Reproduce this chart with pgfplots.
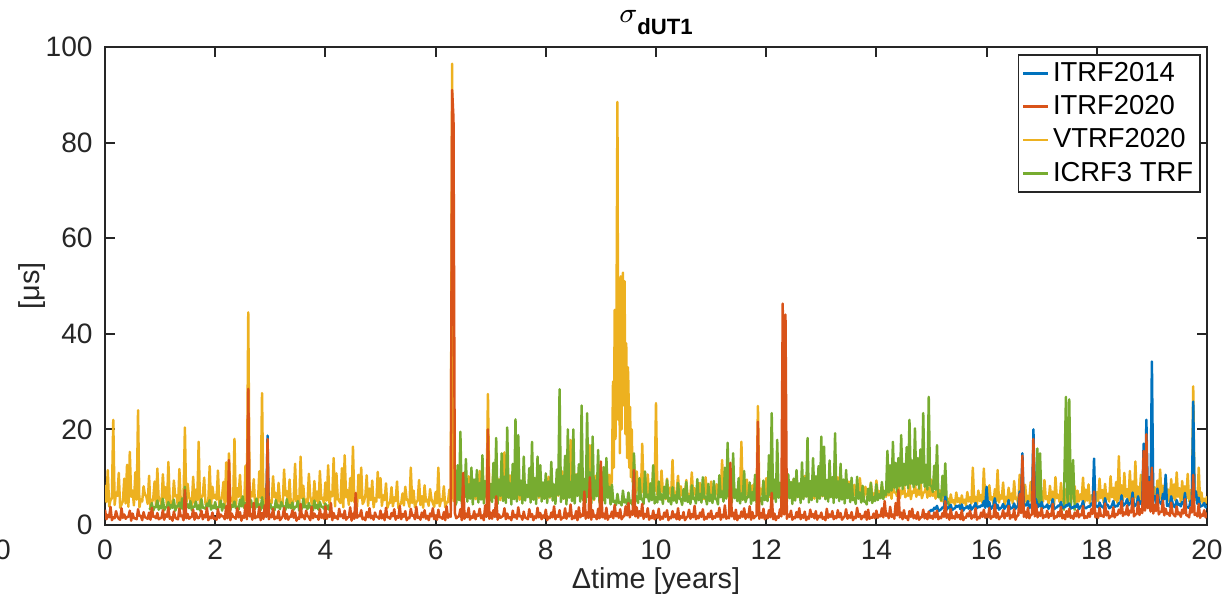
\documentclass[border=0pt]{standalone}
\usepackage{fontspec}
\setmainfont{Liberation Sans}
\usepackage{pgfplots}
\pgfplotsset{compat=1.18}
\definecolor{mblue}{rgb}{0,0.447,0.741}
\definecolor{morange}{rgb}{0.850,0.325,0.098}
\definecolor{myellow}{rgb}{0.929,0.694,0.125}
\definecolor{mgreen}{rgb}{0.466,0.674,0.188}
\definecolor{axgray}{rgb}{0.15,0.15,0.15}
\begin{document}
\begin{tikzpicture}
\useasboundingbox (0,0) rectangle (12.26cm,6.01cm);
\begin{axis}[
  at={(1.05cm,0.76cm)}, anchor=south west,
  scale only axis, width=11.02cm, height=4.78cm,
  xmin=0, xmax=20, ymin=0, ymax=100,
  xtick={0,2,...,20}, ytick={0,20,...,100},
  tick align=inside, tick pos=both, major tick length=1mm,
  axis line style={axgray, line width=0.6pt},
  every tick/.style={axgray, line width=0.6pt},
  /pgf/number format/assume math mode=true,
  tick label style={font=\fontsize{8}{9.6}\selectfont, text=axgray},
  xticklabel style={anchor=base, yshift=-3.5mm},
  every axis title shift=0pt,
  title={$\sigma$\raisebox{-1.2mm}{\fontsize{6.3}{7}\selectfont\bfseries dUT1}},
  title style={at={(axis description cs:0.5,1.052)}, anchor=base, font=\fontsize{8.5}{10}\selectfont},
  xlabel={Δtime [years]},
  xlabel style={at={(axis description cs:0.5,-0.132)}, anchor=base, font=\fontsize{8.2}{10}\selectfont, text=axgray},
  ylabel={[μs]},
  ylabel style={at={(axis description cs:-0.059,0.5)}, anchor=base, font=\fontsize{8.2}{10}\selectfont, text=axgray},
  legend style={at={(axis description cs:0.9946,0.9854)}, anchor=north east,
    draw=axgray, line width=0.5pt, fill=white,
    font=\fontsize{7.8}{9}\selectfont, inner xsep=1pt, inner ysep=0.5pt,
    nodes={inner sep=1pt, text height=6pt, text depth=1.5pt}, row sep=0pt},
  legend cell align=left,
  legend image code/.code={\draw[#1, line width=0.7pt] (0cm,0cm) -- (0.25cm,0cm);},
  every axis plot/.append style={line width=0.7pt, line join=round},
]
\addlegendimage{mblue}
\addlegendentry{ITRF2014}
\addlegendimage{morange}
\addlegendentry{ITRF2020}
\addlegendimage{myellow}
\addlegendentry{VTRF2020}
\addlegendimage{mgreen}
\addlegendentry{ICRF3 TRF}

% VTRF2020 (yellow)
\addplot[myellow, forget plot] coordinates {
(0,8.4)(0.025,4.8)(0.05,11.5)(0.075,3.9)(0.1,5.2)(0.125,5.6)(0.15,22.0)(0.175,4.2)(0.2,6.8)(0.225,6.1)(0.25,10.9)(0.275,3.6)(0.3,4.3)(0.325,5.0)(0.35,9.7)(0.375,4.5)(0.4,12.6)(0.425,3.8)(0.45,15.3)(0.475,5.9)(0.5,7.2)(0.525,4.1)(0.55,11.0)(0.575,5.3)(0.6,24.0)(0.625,3.7)(0.65,5.4)(0.675,4.9)(0.7,8.1)(0.725,6.3)(0.75,6.0)(0.775,4.4)(0.8,10.3)(0.825,3.5)(0.85,4.7)(0.875,5.5)(0.9,9.1)(0.925,4.0)(0.95,11.8)(0.975,5.1)
(1,5.5)(1.025,4.2)(1.05,10.6)(1.075,5.7)(1.1,7.9)(1.125,3.8)(1.15,13.2)(1.175,5.0)(1.2,4.6)(1.225,4.4)(1.25,9.3)(1.275,6.0)(1.3,6.2)(1.325,3.6)(1.35,11.7)(1.375,4.9)(1.4,4.1)(1.425,5.4)(1.45,20.4)(1.475,4.0)(1.5,8.6)(1.525,5.8)(1.55,5.0)(1.575,3.9)(1.6,10.1)(1.625,4.6)(1.65,7.4)(1.675,5.2)(1.7,17.4)(1.725,3.7)(1.75,5.8)(1.775,6.2)(1.8,9.9)(1.825,4.3)(1.85,4.4)(1.875,5.0)(1.9,12.3)(1.925,4.1)(1.95,8.0)(1.975,5.6)
(2,6.3)(2.025,5.3)(2.05,11.4)(2.075,4.0)(2.1,4.8)(2.125,6.1)(2.15,9.0)(2.175,3.7)(2.2,13.1)(2.225,4.8)(2.25,15.0)(2.275,5.5)(2.3,5.6)(2.325,4.2)(2.35,18.0)(2.375,3.9)(2.4,7.7)(2.425,5.9)(2.45,10.5)(2.475,4.5)(2.5,4.5)(2.525,3.6)(2.55,12.4)(2.575,5.1)(2.6,44.5)(2.625,4.7)(2.65,6.9)(2.675,6.0)(2.7,9.6)(2.725,3.8)(2.75,3.9)(2.775,4.4)(2.8,11.2)(2.825,5.7)(2.85,27.6)(2.875,4.1)(2.9,7.5)(2.925,5.2)(2.95,12.0)(2.975,3.9)
(3,5.1)(3.025,4.6)(3.05,10.2)(3.075,5.8)(3.1,6.7)(3.125,3.7)(3.15,8.8)(3.175,5.1)(3.2,4.2)(3.225,4.0)(3.25,11.6)(3.275,6.2)(3.3,7.1)(3.325,4.3)(3.35,9.5)(3.375,3.8)(3.4,3.8)(3.425,5.5)(3.45,12.8)(3.475,4.9)(3.5,6.0)(3.525,4.1)(3.55,14.3)(3.575,5.6)(3.6,8.2)(3.625,3.9)(3.65,5.3)(3.675,4.7)(3.7,10.7)(3.725,6.0)(3.75,4.6)(3.775,4.2)(3.8,9.2)(3.825,5.0)(3.85,7.0)(3.875,3.6)(3.9,11.3)(3.925,5.4)(3.95,5.7)(3.975,4.5)
(4,8.9)(4.025,5.1)(4.05,12.5)(4.075,4.3)(4.1,6.9)(4.125,6.0)(4.15,14.0)(4.175,3.9)(4.2,10.8)(4.225,5.5)(4.25,5.0)(4.275,4.6)(4.3,11.9)(4.325,3.7)(4.35,14.6)(4.375,5.8)(4.4,7.3)(4.425,4.2)(4.45,9.8)(4.475,5.0)(4.5,16.4)(4.525,4.8)(4.55,6.1)(4.575,3.8)(4.6,10.5)(4.625,5.6)(4.65,12.0)(4.675,4.4)(4.7,4.9)(4.725,6.1)(4.75,10.4)(4.775,4.0)(4.8,7.6)(4.825,5.2)(4.85,9.3)(4.875,3.7)(4.9,5.6)(4.925,4.9)(4.95,11.1)(4.975,5.7)
(5,9.8)(5.025,4.0)(5.05,6.2)(5.075,5.2)(5.1,8.7)(5.125,3.6)(5.15,4.5)(5.175,4.7)(5.2,7.9)(5.225,3.9)(5.25,5.8)(5.275,5.0)(5.3,9.1)(5.325,3.5)(5.35,4.3)(5.375,4.5)(5.4,6.6)(5.425,4.1)(5.45,8.0)(5.475,5.3)(5.5,5.1)(5.525,3.8)(5.55,12.0)(5.575,4.6)(5.6,7.2)(5.625,3.7)(5.65,4.8)(5.675,5.1)(5.7,9.4)(5.725,4.2)(5.75,6.0)(5.775,3.6)(5.8,8.3)(5.825,4.9)(5.85,5.3)(5.875,4.0)(5.9,7.5)(5.925,5.4)(5.95,4.6)(5.975,3.8)
(6,6.9)(6.025,4.5)(6.05,12.0)(6.075,3.9)(6.1,5.4)(6.125,5.1)(6.15,8.1)(6.175,3.7)(6.2,4.7)(6.225,4.8)(6.25,7.4)(6.275,4.2)(6.3,96.5)(6.325,5.0)(6.35,6.3)(6.375,5.8)(6.4,8.8)(6.425,6.5)(6.45,5.2)(6.475,5.3)(6.5,9.7)(6.525,6.9)(6.55,7.0)(6.575,5.6)(6.6,10.2)(6.625,6.2)(6.65,5.9)(6.675,7.0)(6.7,8.4)(6.725,5.4)(6.75,6.6)(6.775,6.6)(6.8,11.3)(6.825,5.9)(6.85,7.2)(6.875,6.8)(6.9,9.0)(6.925,5.5)(6.95,27.4)(6.975,6.3)
(7,8.2)(7.025,6.1)(7.05,11.5)(7.075,5.6)(7.1,6.4)(7.125,6.8)(7.15,9.6)(7.175,5.2)(7.2,7.3)(7.225,6.4)(7.25,15.2)(7.275,5.9)(7.3,8.8)(7.325,7.1)(7.35,10.4)(7.375,5.5)(7.4,6.9)(7.425,6.7)(7.45,12.3)(7.475,6.0)(7.5,7.6)(7.525,5.3)(7.55,9.1)(7.575,6.5)(7.6,11.0)(7.625,5.8)(7.65,8.0)(7.675,7.0)(7.7,6.5)(7.725,5.4)(7.75,10.7)(7.775,6.2)(7.8,7.8)(7.825,6.9)(7.85,9.3)(7.875,5.7)(7.9,6.2)(7.925,6.3)(7.95,8.6)(7.975,5.5)
(8,7.0)(8.025,6.4)(8.05,10.1)(8.075,5.7)(8.1,8.4)(8.125,6.9)(8.15,6.6)(8.175,5.3)(8.2,9.5)(8.225,6.1)(8.25,7.7)(8.275,6.6)(8.3,11.2)(8.325,5.5)(8.35,6.3)(8.375,7.2)(8.4,8.9)(8.425,5.9)(8.45,17.8)(8.475,6.3)(8.5,7.4)(8.525,5.4)(8.55,10.6)(8.575,6.8)(8.6,6.8)(8.625,6.0)(8.65,9.2)(8.675,5.6)(8.7,8.0)(8.725,7.0)(8.75,12.5)(8.775,5.8)(8.8,16.7)(8.825,6.5)(8.85,7.9)(8.875,5.2)(8.9,10.3)(8.925,6.7)(8.95,9.0)(8.975,6.1)
(9,11.4)(9.025,6.2)(9.05,8.6)(9.075,7.0)(9.1,12.9)(9.125,5.8)(9.15,10.5)(9.175,6.6)(9.2,9.8)(9.22,30)(9.235,12)(9.25,45)(9.265,18)(9.28,35)(9.3,88.5)(9.315,22)(9.33,42)(9.345,15)(9.36,52)(9.375,20)(9.39,40)(9.4,52.8)(9.415,25)(9.43,51)(9.445,19)(9.46,38)(9.475,14)(9.49,33)(9.5,29)(9.515,12)(9.53,24.7)(9.545,10)(9.56,20)(9.575,9)(9.6,14)(9.625,6.0)(9.65,11.2)(9.675,7.2)(9.7,9.3)(9.725,5.5)(9.75,17.0)(9.775,6.8)(9.8,8.5)(9.825,5.9)(9.85,10.6)(9.875,6.4)(9.9,7.8)(9.925,5.6)(9.95,12.2)(9.975,7.0)
(10,25.5)(10.025,6.3)(10.05,8.2)(10.075,5.7)(10.1,11.4)(10.125,6.9)(10.15,6.9)(10.175,5.4)(10.2,9.7)(10.225,6.5)(10.25,7.8)(10.275,6.0)(10.3,13.6)(10.325,5.8)(10.35,6.2)(10.375,7.1)(10.4,10.3)(10.425,5.5)(10.45,8.1)(10.475,6.2)(10.5,7.0)(10.525,6.7)(10.55,9.4)(10.575,5.3)(10.6,6.5)(10.625,6.4)(10.65,11.0)(10.675,5.9)(10.7,7.7)(10.725,6.8)(10.75,5.9)(10.775,5.6)(10.8,8.8)(10.825,6.1)(10.85,7.1)(10.875,5.4)(10.9,10.0)(10.925,6.6)(10.95,6.4)(10.975,5.8)
(11,9.1)(11.025,5.9)(11.05,6.8)(11.075,6.5)(11.1,8.5)(11.125,5.4)(11.15,7.4)(11.175,6.8)(11.2,13.6)(11.225,5.7)(11.25,6.3)(11.275,6.2)(11.3,9.9)(11.325,5.5)(11.35,7.0)(11.375,7.0)(11.4,10.8)(11.425,6.0)(11.45,6.5)(11.475,5.6)(11.5,8.7)(11.525,6.6)(11.55,17.4)(11.575,5.3)(11.6,7.2)(11.625,6.3)(11.65,9.5)(11.675,5.8)(11.7,6.1)(11.725,6.9)(11.75,8.3)(11.775,5.5)(11.8,10.4)(11.825,6.1)(11.85,24.9)(11.875,5.7)(11.9,7.6)(11.925,6.4)(11.95,9.0)(11.975,5.9)
(12,9.8)(12.025,6.2)(12.05,7.5)(12.075,5.8)(12.1,8.9)(12.125,6.6)(12.15,6.7)(12.175,5.5)(12.2,10.1)(12.225,6.9)(12.25,7.3)(12.275,6.0)(12.3,9.0)(12.325,5.7)(12.35,6.4)(12.375,6.4)(12.4,8.2)(12.425,5.9)(12.45,7.8)(12.475,6.7)(12.5,9.6)(12.525,5.4)(12.55,6.9)(12.575,6.3)(12.6,8.5)(12.625,6.0)(12.65,7.1)(12.675,5.6)(12.7,10.3)(12.725,6.8)(12.75,6.6)(12.775,5.8)(12.8,8.0)(12.825,6.2)(12.85,7.4)(12.875,5.5)(12.9,9.2)(12.925,6.5)(12.95,6.2)(12.975,5.9)
(13,8.7)(13.025,6.0)(13.05,7.0)(13.075,6.5)(13.1,9.4)(13.125,5.6)(13.15,6.5)(13.175,6.8)(13.2,8.1)(13.225,5.8)(13.25,7.7)(13.275,6.3)(13.3,10.0)(13.325,5.5)(13.35,6.8)(13.375,6.6)(13.4,8.6)(13.425,6.1)(13.45,7.2)(13.475,5.7)(13.5,9.1)(13.525,6.9)(13.55,6.3)(13.575,5.4)(13.6,8.4)(13.625,6.2)(13.65,7.6)(13.675,5.9)(13.7,9.8)(13.725,6.7)(13.75,6.9)(13.775,5.6)(13.8,8.0)(13.825,6.4)(13.85,7.3)(13.875,5.8)(13.9,8.9)(13.925,6.1)(13.95,6.6)(13.975,5.5)
(14,9.3)(14.025,6.3)(14.05,7.1)(14.075,5.7)(14.1,8.2)(14.125,6.6)(14.15,6.4)(14.175,5.9)(14.2,9.0)(14.225,6.2)(14.25,7.5)(14.275,5.5)(14.3,8.7)(14.325,6.8)(14.35,6.8)(14.375,6.0)(14.4,9.6)(14.425,5.6)(14.45,7.2)(14.475,6.5)(14.5,8.3)(14.525,5.8)(14.55,6.5)(14.575,6.1)(14.6,9.9)(14.625,5.4)(14.65,7.0)(14.675,6.7)(14.7,8.6)(14.725,5.9)(14.75,7.4)(14.775,6.3)(14.8,9.2)(14.825,5.6)(14.85,6.7)(14.875,6.9)(14.9,8.0)(14.925,5.7)(14.95,7.8)(14.975,6.0)
(15,9.5)(15.025,6.1)(15.05,6.9)(15.075,5.5)(15.1,8.4)(15.125,5.8)(15.15,7.3)(15.175,5.0)(15.2,6.6)(15.225,4.6)(15.25,7.1)(15.275,4.9)(15.3,5.5)(15.325,4.3)(15.35,6.4)(15.375,4.7)(15.4,5.2)(15.425,4.2)(15.45,6.8)(15.475,4.8)(15.5,5.6)(15.525,4.4)(15.55,6.2)(15.575,4.6)(15.6,5.3)(15.625,4.1)(15.65,6.9)(15.675,4.9)(15.7,5.8)(15.725,4.5)(15.75,12.0)(15.775,4.8)(15.8,5.9)(15.825,4.3)(15.85,7.2)(15.875,5.0)(15.9,6.3)(15.925,4.6)(15.95,11.8)(15.975,5.2)
(16,6.4)(16.025,4.8)(16.05,8.3)(16.075,5.3)(16.1,5.8)(16.125,4.4)(16.15,7.5)(16.175,5.0)(16.2,11.5)(16.225,4.7)(16.25,6.2)(16.275,5.5)(16.3,8.9)(16.325,4.2)(16.35,5.9)(16.375,4.9)(16.4,7.8)(16.425,5.1)(16.45,6.6)(16.475,4.5)(16.5,9.2)(16.525,5.4)(16.55,5.7)(16.575,4.3)(16.6,10.5)(16.625,4.8)(16.65,7.3)(16.675,5.2)(16.7,8.4)(16.725,4.6)(16.75,6.1)(16.775,5.0)(16.8,9.0)(16.825,4.4)(16.85,7.7)(16.875,5.3)(16.9,6.5)(16.925,4.7)(16.95,8.6)(16.975,5.1)
(17,7.1)(17.025,4.9)(17.05,9.4)(17.075,5.4)(17.1,6.0)(17.125,4.5)(17.15,8.2)(17.175,5.1)(17.2,7.0)(17.225,4.3)(17.25,10.0)(17.275,5.6)(17.3,6.3)(17.325,4.8)(17.35,8.8)(17.375,5.0)(17.4,5.9)(17.425,4.4)(17.45,7.6)(17.475,5.2)(17.5,9.5)(17.525,4.7)(17.55,6.7)(17.575,5.5)(17.6,8.1)(17.625,4.2)(17.65,7.2)(17.675,4.9)(17.7,6.4)(17.725,5.3)(17.75,9.9)(17.775,4.6)(17.8,7.4)(17.825,5.1)(17.85,8.5)(17.875,4.5)(17.9,6.2)(17.925,5.4)(17.95,8.0)(17.975,4.8)
(18,6.9)(18.025,5.0)(18.05,9.7)(18.075,5.6)(18.1,7.3)(18.125,4.7)(18.15,8.6)(18.175,5.3)(18.2,6.5)(18.225,4.9)(18.25,10.2)(18.275,5.8)(18.3,7.8)(18.325,5.1)(18.35,9.0)(18.375,4.6)(18.4,14.4)(18.425,5.5)(18.45,8.3)(18.475,5.2)(18.5,10.9)(18.525,5.9)(18.55,7.5)(18.575,4.8)(18.6,11.3)(18.625,5.4)(18.65,9.1)(18.675,5.0)(18.7,13.3)(18.725,5.7)(18.75,8.0)(18.775,4.9)(18.8,10.5)(18.825,5.3)(18.85,7.6)(18.875,5.6)(18.9,9.8)(18.925,5.1)(18.95,8.8)(18.975,4.8)
(19,10.4)(19.025,5.4)(19.05,7.9)(19.075,4.9)(19.1,9.3)(19.125,5.7)(19.15,11.6)(19.175,5.2)(19.2,8.2)(19.225,5.8)(19.25,10.0)(19.275,5.0)(19.3,7.4)(19.325,4.7)(19.35,9.6)(19.375,5.5)(19.4,8.5)(19.425,5.1)(19.45,11.0)(19.475,5.9)(19.5,7.7)(19.525,4.8)(19.55,9.2)(19.575,5.3)(19.6,8.1)(19.625,5.6)(19.65,10.7)(19.675,5.0)(19.7,7.3)(19.725,4.6)(19.75,29.0)(19.775,5.2)(19.8,7.0)(19.825,4.5)(19.85,12.0)(19.875,4.9)(19.9,6.8)(19.925,4.3)(19.95,5.5)(19.975,4.6)(20,6.0)};

% ICRF3 TRF (green), in segments
\addplot[mgreen, forget plot] coordinates {
(0.8,3.2)(0.825,3.4)(0.85,4.6)(0.875,3.0)(0.9,3.8)(0.925,3.7)(0.95,5.1)(0.975,3.2)
(1,4.0)(1.025,3.5)(1.05,5.5)(1.075,3.1)(1.1,3.7)(1.125,3.8)(1.15,4.8)(1.175,3.3)(1.2,4.2)(1.225,3.6)(1.25,5.3)(1.275,3.0)(1.3,3.9)(1.325,3.9)(1.35,4.7)(1.375,3.4)(1.4,5.6)(1.425,3.2)(1.45,8.0)(1.475,3.7)(1.5,4.3)(1.525,3.5)(1.55,5.0)(1.575,3.1)(1.6,3.8)(1.625,3.8)(1.65,4.9)(1.675,3.3)(1.7,4.1)(1.725,3.0)(1.75,5.4)(1.775,3.6)(1.8,3.6)(1.825,3.4)(1.85,4.5)(1.875,3.9)(1.9,5.2)(1.925,3.2)(1.95,4.0)(1.975,3.5)
(2,4.8)(2.025,3.3)(2.05,3.7)(2.075,3.7)(2.1,5.1)(2.125,3.0)(2.15,4.4)(2.175,3.6)(2.2,3.9)(2.225,3.4)(2.25,5.6)(2.275,3.1)(2.3,4.2)(2.325,3.8)(2.35,4.9)(2.375,3.5)(2.4,3.8)(2.425,3.2)(2.45,5.3)(2.475,3.9)(2.5,6.0)(2.525,3.6)(2.55,4.6)(2.575,3.3)(2.6,7.0)(2.625,3.0)(2.65,5.2)(2.675,3.7)(2.7,4.1)(2.725,3.4)(2.75,5.5)(2.775,3.8)(2.8,4.3)(2.825,3.1)(2.85,5.8)(2.875,3.5)(2.9,4.0)(2.925,3.2)(2.95,5.0)(2.975,3.6)
(3,4.4)(3.025,3.4)(3.05,3.7)(3.075,3.0)(3.1,5.2)(3.125,3.7)(3.15,4.1)(3.175,3.3)(3.2,4.8)(3.225,3.9)(3.25,3.9)(3.275,3.1)(3.3,5.4)(3.325,3.6)(3.35,4.2)(3.375,3.5)(3.4,4.7)(3.425,3.2)(3.45,3.8)(3.475,3.8)(3.5,5.0)(3.525,3.0)(3.55,4.3)(3.575,3.4)(3.6,5.5)(3.625,3.7)(3.65,4.0)(3.675,3.3)(3.7,4.6)(3.725,3.6)(3.75,3.9)(3.775,3.1)(3.8,5.1)(3.825,3.5)(3.85,4.2)(3.875,3.2)(3.9,4.8)(3.925,3.8)(3.95,3.8)(3.975,3.4)(4,4.5)(4.025,3.3)(4.05,4.1)(4.075,3.1)(4.1,3.5)};
\addplot[mgreen, forget plot] coordinates {
(6.35,4.0)(6.375,4.6)(6.4,12.5)(6.425,5.2)(6.45,19.5)(6.475,4.4)(6.5,9.0)(6.525,5.8)(6.55,13.8)(6.575,4.9)(6.6,8.5)(6.625,5.5)(6.65,12.0)(6.675,4.3)(6.7,9.5)(6.725,6.0)(6.75,11.5)(6.775,4.7)(6.8,8.8)(6.825,5.3)(6.85,14.6)(6.875,4.5)(6.9,9.2)(6.925,5.9)(6.95,10.2)(6.975,5.0)
(7,8.6)(7.025,4.8)(7.05,13.0)(7.075,5.6)(7.1,18.2)(7.125,4.4)(7.15,9.4)(7.175,6.1)(7.2,15.0)(7.225,5.0)(7.25,10.1)(7.275,4.6)(7.3,20.4)(7.325,5.7)(7.35,8.7)(7.375,4.3)(7.4,12.8)(7.425,5.4)(7.45,22.1)(7.475,4.9)(7.5,18.8)(7.525,6.2)(7.55,9.3)(7.575,4.5)(7.6,14.3)(7.625,5.1)(7.65,8.4)(7.675,5.8)(7.7,11.9)(7.725,4.7)(7.75,17.4)(7.775,5.3)(7.8,9.8)(7.825,4.4)(7.85,14.3)(7.875,6.0)(7.9,12.5)(7.925,4.9)(7.95,8.9)(7.975,5.5)
(8,10.8)(8.025,4.6)(8.05,9.1)(8.075,5.9)(8.1,13.2)(8.125,5.1)(8.15,8.5)(8.175,4.4)(8.2,11.6)(8.225,6.3)(8.25,28.4)(8.275,4.8)(8.3,10.2)(8.325,5.5)(8.35,14.5)(8.375,4.3)(8.4,20.0)(8.425,5.7)(8.45,9.0)(8.475,5.0)(8.5,20.0)(8.525,4.5)(8.55,10.5)(8.575,6.1)(8.6,12.7)(8.625,4.9)(8.65,25.0)(8.675,5.2)(8.7,9.6)(8.725,4.7)(8.75,23.4)(8.775,5.8)(8.8,11.0)(8.825,4.4)(8.85,18.5)(8.875,5.4)(8.9,9.3)(8.925,6.0)(8.95,15.7)(8.975,4.6)
(9,10.0)(9.025,5.1)(9.05,12.1)(9.075,4.5)(9.1,14.0)(9.125,5.7)(9.15,8.0)(9.175,4.3)(9.2,8.4)(9.225,4.8)(9.25,5.0)(9.275,4.2)(9.3,6.5)(9.325,4.6)(9.35,4.8)(9.375,4.1)(9.4,7.2)(9.425,4.7)(9.45,5.3)(9.475,4.3)(9.5,6.8)(9.525,4.5)(9.55,5.1)(9.575,4.2)(9.6,15.0)(9.625,5.0)(9.65,6.0)(9.675,4.6)(9.7,9.8)(9.725,5.4)(9.75,5.5)(9.775,4.4)(9.8,11.2)(9.825,5.8)(9.85,6.3)(9.875,4.9)(9.9,8.7)(9.925,5.2)(9.95,12.5)(9.975,4.5)
(10,5.8)(10.025,4.7)(10.05,9.1)(10.075,5.3)(10.1,6.4)(10.125,4.4)(10.15,8.0)(10.175,5.6)(10.2,9.4)(10.225,4.9)(10.25,5.6)(10.275,4.3)(10.3,7.9)(10.325,5.1)(10.35,6.2)(10.375,4.6)(10.4,8.8)(10.425,5.5)(10.45,5.4)(10.475,4.2)(10.5,7.5)(10.525,5.0)(10.55,9.0)(10.575,4.8)(10.6,6.0)(10.625,4.4)(10.65,8.3)(10.675,5.4)(10.7,5.7)(10.725,4.5)(10.75,9.6)(10.775,5.2)(10.8,6.5)(10.825,4.7)(10.85,10.0)(10.875,5.7)(10.9,5.9)(10.925,4.3)(10.95,8.6)(10.975,5.0)
(11,6.3)(11.025,4.6)(11.05,9.2)(11.075,5.4)(11.1,5.5)(11.125,4.3)(11.15,10.4)(11.175,5.8)(11.2,7.0)(11.225,4.9)(11.25,12.0)(11.275,5.5)(11.3,17.2)(11.325,6.0)(11.35,6.1)(11.375,4.7)(11.4,15.0)(11.425,5.6)(11.45,7.4)(11.475,5.0)(11.5,9.8)(11.525,4.5)(11.55,6.6)(11.575,5.3)(11.6,11.3)(11.625,4.8)(11.65,5.8)(11.675,5.9)(11.7,8.9)(11.725,4.4)(11.75,6.9)(11.775,5.1)(11.8,10.5)(11.825,4.6)(11.85,7.2)(11.875,5.7)(11.9,5.6)(11.925,4.3)(11.95,9.3)(11.975,5.2)
(12,6.0)(12.025,5.0)(12.05,14.6)(12.075,6.2)(12.1,23.4)(12.125,5.5)(12.15,9.5)(12.175,4.8)(12.2,17.8)(12.225,5.7)(12.25,8.8)(12.275,4.5)(12.3,12.2)(12.325,5.3)(12.35,8.2)(12.375,4.9)(12.4,10.6)(12.425,5.6)(12.45,9.0)(12.475,4.4)(12.5,9.7)(12.525,5.1)(12.55,11.5)(12.575,5.8)(12.6,8.7)(12.625,4.6)(12.65,13.1)(12.675,5.4)(12.7,9.8)(12.725,5.9)(12.75,18.2)(12.775,4.7)(12.8,9.2)(12.825,5.2)(12.85,14.0)(12.875,6.0)(12.9,10.2)(12.925,4.8)(12.95,12.3)(12.975,5.5)
(13,18.5)(13.025,6.1)(13.05,16.4)(13.075,5.4)(13.1,9.4)(13.125,4.9)(13.15,13.5)(13.175,5.8)(13.2,10.0)(13.225,4.6)(13.25,19.2)(13.275,5.7)(13.3,9.1)(13.325,5.0)(13.35,12.8)(13.375,5.3)(13.4,9.5)(13.425,4.5)(13.45,11.5)(13.475,5.6)(13.5,8.6)(13.525,4.8)(13.55,9.9)(13.575,5.2)(13.6,5.7)(13.625,4.4)(13.65,10.1)(13.675,5.5)(13.7,6.8)(13.725,4.7)(13.75,8.2)(13.775,4.9)(13.8,4.9)(13.825,4.3)(13.85,7.6)(13.875,5.1)(13.9,8.8)(13.925,4.6)(13.95,5.8)(13.975,5.0)
(14,8.5)(14.025,5.2)(14.05,6.4)(14.075,5.6)(14.1,9.0)(14.125,5.4)(14.15,7.1)(14.175,6.3)(14.2,15.5)(14.225,6.8)(14.25,12.5)(14.275,7.2)(14.3,17.4)(14.325,7.8)(14.35,13.0)(14.375,6.9)(14.4,14.0)(14.425,8.1)(14.45,18.8)(14.475,7.5)(14.5,12.8)(14.525,8.3)(14.55,16.3)(14.575,7.7)(14.6,22.0)(14.625,8.6)(14.65,13.5)(14.675,7.9)(14.7,20.2)(14.725,8.4)(14.75,14.0)(14.775,7.6)(14.8,15.8)(14.825,8.8)(14.85,23.4)(14.875,8.0)(14.9,12.6)(14.925,7.4)(14.95,26.8)(14.975,8.2)
(15,8.2)(15.025,6.9)(15.05,12.4)(15.075,7.4)(15.1,16.7)(15.125,5.8)(15.15,6.5)(15.175,5.2)(15.2,10.3)(15.225,6.1)(15.25,12.9)(15.275,5.0)(15.3,4.8)(15.325,3.8)(15.35,3.0)};
\addplot[mgreen, forget plot] coordinates {(16.88,3.0)(16.92,16.0)(16.945,4.0)(16.97,15.0)(17.0,3.0)};
\addplot[mgreen, forget plot] coordinates {(17.4,3.0)(17.44,26.8)(17.47,4.0)(17.5,26.3)(17.53,4.0)(17.57,13.6)(17.6,3.0)};

% ITRF2014 (blue), mostly hidden below ITRF2020
\addplot[mblue, forget plot] coordinates {(2.9,3.0)(2.925,1.8)(2.95,18.7)(2.975,1.8)(3.0,2.0)};
\addplot[mblue, forget plot] coordinates {
(14.95,3.0)(14.975,2.8)(15,3.2)(15.025,3.0)(15.05,3.6)(15.075,3.4)(15.1,4.0)(15.125,2.9)(15.15,3.1)(15.175,3.3)(15.2,3.7)(15.225,3.6)(15.25,5.9)(15.275,3.2)(15.3,3.6)(15.325,3.7)(15.35,4.2)(15.375,3.1)(15.4,3.4)(15.425,3.5)(15.45,4.0)(15.475,3.8)(15.5,4.1)(15.525,3.3)(15.55,4.3)(15.575,3.0)(15.6,3.5)(15.625,3.6)(15.65,3.9)(15.675,3.4)(15.7,4.2)(15.725,3.2)(15.75,3.6)(15.775,3.9)(15.8,4.6)(15.825,3.5)(15.85,3.9)(15.875,3.7)(15.9,4.1)(15.925,4.0)(15.95,5.0)(15.975,3.6)
(16,8.0)(16.025,3.8)(16.05,4.8)(16.075,3.3)(16.1,3.7)(16.125,4.1)(16.15,5.6)(16.175,3.5)(16.2,4.2)(16.225,3.2)(16.25,3.5)(16.275,3.7)(16.3,4.4)(16.325,3.4)(16.35,3.9)(16.375,3.9)(16.4,5.2)(16.425,3.3)(16.45,3.6)(16.475,3.6)(16.5,4.5)(16.525,3.4)(16.55,3.8)(16.575,4.2)(16.6,7.0)(16.625,5.0)(16.65,15.0)(16.675,3.8)(16.7,4.3)(16.725,4.1)(16.75,5.0)(16.775,3.5)(16.8,3.9)(16.825,4.6)(16.85,20.0)(16.875,4.0)(16.9,5.4)(16.925,3.7)(16.95,4.3)(16.975,3.9)
(17,4.8)(17.025,3.6)(17.05,3.8)(17.075,3.8)(17.1,4.3)(17.125,3.4)(17.15,4.0)(17.175,4.0)(17.2,5.4)(17.225,3.3)(17.25,3.6)(17.275,3.7)(17.3,4.1)(17.325,3.9)(17.35,4.8)(17.375,3.5)(17.4,3.8)(17.425,3.7)(17.45,4.2)(17.475,4.1)(17.5,4.5)(17.525,3.4)(17.55,3.7)(17.575,3.6)(17.6,4.0)(17.625,3.8)(17.65,4.4)(17.675,3.3)(17.7,3.8)(17.725,4.0)(17.75,5.0)(17.775,3.5)(17.8,3.5)(17.825,3.7)(17.85,3.9)(17.875,3.8)(17.9,4.5)(17.925,4.2)(17.95,13.9)(17.975,3.8)
(18,4.0)(18.025,3.7)(18.05,4.7)(18.075,4.0)(18.1,3.8)(18.125,3.6)(18.15,5.6)(18.175,4.2)(18.2,4.2)(18.225,3.5)(18.25,3.7)(18.275,4.1)(18.3,5.0)(18.325,3.8)(18.35,4.0)(18.375,3.9)(18.4,4.6)(18.425,4.4)(18.45,6.2)(18.475,4.0)(18.5,4.3)(18.525,4.6)(18.55,5.4)(18.575,4.1)(18.6,4.5)(18.625,4.8)(18.65,6.8)(18.675,3.9)(18.7,4.1)(18.725,4.5)(18.75,6.0)(18.775,4.3)(18.8,4.9)(18.825,5.0)(18.85,17.0)(18.875,5.8)(18.9,22.0)(18.925,6.8)(18.95,10.0)(18.975,5.3)
(19,34.2)(19.025,5.6)(19.05,6.0)(19.075,4.5)(19.1,7.6)(19.125,5.0)(19.15,4.7)(19.175,4.3)(19.2,6.5)(19.225,5.4)(19.25,10.5)(19.275,4.0)(19.3,4.3)(19.325,3.8)(19.35,6.0)(19.375,4.6)(19.4,3.9)(19.425,3.7)(19.45,5.2)(19.475,4.2)(19.5,4.4)(19.525,3.9)(19.55,4.8)(19.575,4.4)(19.6,6.7)(19.625,3.8)(19.65,3.7)(19.675,3.6)(19.7,5.0)(19.725,4.8)(19.75,25.8)(19.775,5.8)(19.8,7.0)(19.825,4.4)(19.85,5.7)(19.875,3.8)(19.9,4.0)(19.925,4.1)(19.95,4.6)(19.975,3.7)(20,4.1)};

% ITRF2020 (orange), on top
\addplot[morange, forget plot] coordinates {
(0,3.2)(0.025,1.2)(0.05,2.1)(0.075,1.6)(0.1,3.8)(0.125,1.0)(0.15,1.6)(0.175,1.4)(0.2,2.9)(0.225,1.8)(0.25,1.3)(0.275,1.1)(0.3,3.5)(0.325,1.5)(0.35,2.2)(0.375,1.3)(0.4,1.7)(0.425,1.7)(0.45,3.0)(0.475,0.9)(0.5,2.4)(0.525,1.4)(0.55,1.4)(0.575,1.2)(0.6,3.3)(0.625,1.9)(0.65,1.9)(0.675,1.0)(0.7,2.7)(0.725,1.6)(0.75,1.5)(0.775,1.3)(0.8,2.6)(0.825,1.1)(0.85,3.6)(0.875,1.7)(0.9,1.8)(0.925,1.4)(0.95,2.5)(0.975,1.2)
(1,1.4)(1.025,1.5)(1.05,3.1)(1.075,1.1)(1.1,2.2)(1.125,1.7)(1.15,3.7)(1.175,1.3)(1.2,1.6)(1.225,0.9)(1.25,2.8)(1.275,1.6)(1.3,1.3)(1.325,1.2)(1.35,3.4)(1.375,1.8)(1.4,2.0)(1.425,1.0)(1.45,7.3)(1.475,1.4)(1.5,2.3)(1.525,1.3)(1.55,1.6)(1.575,1.7)(1.6,3.2)(1.625,1.1)(1.65,2.5)(1.675,1.5)(1.7,1.4)(1.725,1.9)(1.75,3.0)(1.775,1.2)(1.8,2.1)(1.825,1.6)(1.85,3.6)(1.875,1.0)(1.9,1.7)(1.925,1.4)(1.95,2.6)(1.975,1.3)
(2,1.5)(2.025,1.1)(2.05,3.3)(2.075,1.5)(2.1,2.2)(2.125,1.8)(2.15,1.8)(2.175,1.2)(2.2,3.9)(2.225,1.4)(2.25,13.6)(2.275,1.0)(2.3,2.4)(2.325,1.7)(2.35,1.6)(2.375,1.3)(2.4,3.5)(2.425,1.6)(2.45,2.7)(2.475,0.9)(2.5,1.9)(2.525,1.5)(2.55,4.2)(2.575,1.2)(2.6,28.5)(2.625,1.8)(2.65,2.3)(2.675,1.1)(2.7,4.6)(2.725,1.4)(2.75,1.8)(2.775,1.6)(2.8,3.8)(2.825,1.0)(2.85,2.5)(2.875,1.3)(2.9,4.1)(2.925,1.7)(2.95,18.0)(2.975,1.2)
(3,2.2)(3.025,1.6)(3.05,3.4)(3.075,1.2)(3.1,1.7)(3.125,1.4)(3.15,2.9)(3.175,1.0)(3.2,1.4)(3.225,1.8)(3.25,3.6)(3.275,1.3)(3.3,2.3)(3.325,1.1)(3.35,1.8)(3.375,1.7)(3.4,3.1)(3.425,1.5)(3.45,2.6)(3.475,0.9)(3.5,1.5)(3.525,1.3)(3.55,4.4)(3.575,1.6)(3.6,2.0)(3.625,1.2)(3.65,3.0)(3.675,1.9)(3.7,1.6)(3.725,1.0)(3.75,3.8)(3.775,1.4)(3.8,2.4)(3.825,1.7)(3.85,1.9)(3.875,1.1)(3.9,3.3)(3.925,1.5)(3.95,2.2)(3.975,1.3)
(4,3.9)(4.025,1.3)(4.05,2.1)(4.075,1.7)(4.1,4.6)(4.125,1.0)(4.15,2.5)(4.175,1.5)(4.2,1.8)(4.225,1.2)(4.25,3.4)(4.275,1.8)(4.3,2.2)(4.325,1.4)(4.35,3.0)(4.375,1.1)(4.4,1.6)(4.425,1.6)(4.45,3.7)(4.475,0.9)(4.5,2.4)(4.525,1.3)(4.55,6.7)(4.575,1.5)(4.6,2.0)(4.625,1.8)(4.65,3.1)(4.675,1.2)(4.7,1.5)(4.725,1.0)(4.75,2.7)(4.775,1.6)(4.8,3.5)(4.825,1.4)(4.85,1.9)(4.875,1.1)(4.9,2.6)(4.925,1.7)(4.95,1.7)(4.975,1.3)
(5,3.0)(5.025,1.4)(5.05,2.2)(5.075,1.0)(5.1,3.6)(5.125,1.6)(5.15,1.6)(5.175,1.3)(5.2,2.5)(5.225,1.8)(5.25,3.3)(5.275,1.1)(5.3,1.8)(5.325,1.5)(5.35,4.0)(5.375,1.2)(5.4,2.3)(5.425,1.7)(5.45,2.9)(5.475,1.0)(5.5,1.5)(5.525,1.4)(5.55,3.4)(5.575,1.9)(5.6,2.1)(5.625,1.2)(5.65,3.8)(5.675,1.5)(5.7,1.7)(5.725,1.1)(5.75,2.6)(5.775,1.6)(5.8,3.1)(5.825,1.3)(5.85,1.9)(5.875,1.0)(5.9,2.4)(5.925,1.8)(5.95,3.5)(5.975,1.2)
(6,2.0)(6.025,1.1)(6.05,3.2)(6.075,1.6)(6.1,1.6)(6.125,1.3)(6.15,2.7)(6.175,1.0)(6.2,3.9)(6.225,1.5)(6.25,2.2)(6.275,1.7)(6.3,91.0)(6.325,85.0)(6.35,2.5)(6.375,1.4)(6.4,1.7)(6.425,1.8)(6.45,3.3)(6.475,1.0)(6.5,10.9)(6.525,1.3)(6.55,2.4)(6.575,1.6)(6.6,3.6)(6.625,1.1)(6.65,1.8)(6.675,1.5)(6.7,2.9)(6.725,1.2)(6.75,2.2)(6.775,1.9)(6.8,3.4)(6.825,1.4)(6.85,2.0)(6.875,1.0)(6.9,4.1)(6.925,1.7)(6.95,20.0)(6.975,1.3)
(7,2.6)(7.025,1.3)(7.05,3.1)(7.075,1.7)(7.1,6.0)(7.125,1.1)(7.15,2.2)(7.175,1.5)(7.2,1.7)(7.225,1.9)(7.25,3.5)(7.275,1.2)(7.3,2.4)(7.325,1.4)(7.35,1.6)(7.375,1.0)(7.4,3.0)(7.425,1.6)(7.45,2.1)(7.475,1.3)(7.5,3.7)(7.525,1.8)(7.55,1.9)(7.575,1.1)(7.6,2.8)(7.625,1.5)(7.65,1.5)(7.675,1.2)(7.7,3.3)(7.725,1.7)(7.75,2.3)(7.775,1.0)(7.8,1.8)(7.825,1.4)(7.85,3.6)(7.875,1.6)(7.9,2.5)(7.925,1.2)(7.95,2.0)(7.975,1.5)
(8,3.2)(8.025,1.0)(8.05,1.7)(8.075,1.4)(8.1,2.6)(8.125,1.6)(8.15,3.9)(8.175,1.2)(8.2,2.0)(8.225,1.7)(8.25,3.1)(8.275,1.1)(8.3,1.6)(8.325,1.5)(8.35,3.5)(8.375,1.3)(8.4,2.4)(8.425,1.8)(8.45,4.3)(8.475,1.2)(8.5,1.8)(8.525,1.4)(8.55,2.9)(8.575,1.0)(8.6,3.7)(8.625,1.6)(8.65,2.2)(8.675,1.9)(8.7,7.0)(8.725,1.3)(8.75,2.6)(8.775,1.5)(8.8,10.0)(8.825,1.1)(8.85,3.1)(8.875,1.7)(8.9,2.0)(8.925,1.2)(8.95,3.4)(8.975,1.4)
(9,13.3)(9.025,1.6)(9.05,2.4)(9.075,1.3)(9.1,3.6)(9.125,1.1)(9.15,1.9)(9.175,1.7)(9.2,2.8)(9.225,1.4)(9.25,4.2)(9.275,1.8)(9.3,2.5)(9.325,1.5)(9.35,3.3)(9.375,1.2)(9.4,1.7)(9.425,1.9)(9.45,3.9)(9.475,2.0)(9.5,4.6)(9.525,1.6)(9.55,2.8)(9.575,2.1)(9.6,11.5)(9.625,1.8)(9.65,3.7)(9.675,1.5)(9.7,2.9)(9.725,1.9)(9.75,4.4)(9.775,1.3)(9.8,2.3)(9.825,1.7)(9.85,3.5)(9.875,1.1)(9.9,1.8)(9.925,1.4)(9.95,3.0)(9.975,1.2)
(10,2.1)(10.025,1.5)(10.05,3.4)(10.075,1.1)(10.1,1.7)(10.125,1.3)(10.15,2.6)(10.175,1.7)(10.2,3.1)(10.225,1.0)(10.25,1.6)(10.275,1.4)(10.3,2.9)(10.325,1.6)(10.35,2.2)(10.375,1.2)(10.4,3.5)(10.425,1.1)(10.45,1.8)(10.475,1.5)(10.5,2.7)(10.525,1.0)(10.55,1.5)(10.575,1.8)(10.6,3.2)(10.625,1.3)(10.65,2.3)(10.675,1.6)(10.7,4.0)(10.725,1.2)(10.75,1.9)(10.775,1.4)(10.8,2.6)(10.825,1.7)(10.85,3.3)(10.875,1.1)(10.9,1.7)(10.925,1.3)(10.95,2.4)(10.975,1.6)
(11,3.0)(11.025,1.2)(11.05,1.8)(11.075,1.5)(11.1,2.5)(11.125,1.7)(11.15,3.6)(11.175,1.1)(11.2,2.1)(11.225,1.6)(11.25,4.1)(11.275,1.3)(11.3,1.7)(11.325,1.4)(11.35,13.0)(11.375,1.8)(11.4,2.6)(11.425,1.2)(11.45,3.2)(11.475,1.0)(11.5,1.9)(11.525,1.5)(11.55,2.8)(11.575,1.7)(11.6,3.5)(11.625,1.3)(11.65,2.2)(11.675,1.6)(11.7,3.9)(11.725,1.1)(11.75,2.7)(11.775,1.4)(11.8,1.8)(11.825,1.9)(11.85,21.6)(11.875,1.3)(11.9,2.5)(11.925,1.5)(11.95,3.4)(11.975,1.2)
(12,2.0)(12.025,1.4)(12.05,3.1)(12.075,1.6)(12.1,6.7)(12.125,1.2)(12.15,2.4)(12.175,1.0)(12.2,1.8)(12.225,1.5)(12.25,3.3)(12.275,1.8)(12.3,46.3)(12.325,2.2)(12.35,44.0)(12.375,1.3)(12.4,2.2)(12.425,1.7)(12.45,3.0)(12.475,1.1)(12.5,1.6)(12.525,1.4)(12.55,2.7)(12.575,1.6)(12.6,3.5)(12.625,1.2)(12.65,2.1)(12.675,1.5)(12.7,2.8)(12.725,1.0)(12.75,1.7)(12.775,1.3)(12.8,3.2)(12.825,1.7)(12.85,2.3)(12.875,1.4)(12.9,2.9)(12.925,1.1)(12.95,1.9)(12.975,1.6)
(13,2.6)(13.025,1.3)(13.05,1.6)(13.075,1.0)(13.1,3.4)(13.125,1.5)(13.15,2.2)(13.175,1.7)(13.2,2.9)(13.225,1.2)(13.25,1.8)(13.275,1.4)(13.3,3.1)(13.325,1.6)(13.35,2.5)(13.375,1.1)(13.4,1.5)(13.425,1.8)(13.45,3.3)(13.475,1.3)(13.5,2.0)(13.525,1.5)(13.55,2.7)(13.575,1.0)(13.6,1.7)(13.625,1.4)(13.65,3.6)(13.675,1.7)(13.7,2.3)(13.725,1.2)(13.75,1.9)(13.775,1.6)(13.8,2.8)(13.825,1.1)(13.85,3.2)(13.875,1.3)(13.9,1.6)(13.925,1.5)(13.95,2.4)(13.975,1.4)
(14,3.0)(14.025,1.5)(14.05,2.1)(14.075,1.8)(14.1,3.5)(14.125,1.6)(14.15,5.0)(14.175,1.9)(14.2,2.4)(14.225,1.4)(14.25,3.8)(14.275,1.7)(14.3,2.2)(14.325,1.3)(14.35,4.6)(14.375,2.0)(14.4,7.3)(14.425,1.6)(14.45,2.6)(14.475,1.2)(14.5,3.1)(14.525,1.5)(14.55,1.8)(14.575,1.0)(14.6,2.9)(14.625,1.7)(14.65,3.4)(14.675,1.4)(14.7,2.0)(14.725,1.3)(14.75,2.7)(14.775,1.1)(14.8,1.6)(14.825,1.6)(14.85,3.2)(14.875,1.4)(14.9,2.3)(14.925,1.2)(14.95,2.8)(14.975,1.5)
(15,1.9)(15.025,1.3)(15.05,2.6)(15.075,1.6)(15.1,3.0)(15.125,1.2)(15.15,1.7)(15.175,1.4)(15.2,2.5)(15.225,1.7)(15.25,5.0)(15.275,1.5)(15.3,2.2)(15.325,1.1)(15.35,3.3)(15.375,1.4)(15.4,1.8)(15.425,1.3)(15.45,2.7)(15.475,1.6)(15.5,2.1)(15.525,1.2)(15.55,3.1)(15.575,1.0)(15.6,1.6)(15.625,1.5)(15.65,2.4)(15.675,1.8)(15.7,3.0)(15.725,1.3)(15.75,2.0)(15.775,1.6)(15.8,3.5)(15.825,1.1)(15.85,1.7)(15.875,1.4)(15.9,2.6)(15.925,1.7)(15.95,3.2)(15.975,1.5)
(16,2.2)(16.025,1.6)(16.05,3.6)(16.075,1.3)(16.1,1.8)(16.125,1.7)(16.15,4.3)(16.175,1.5)(16.2,2.5)(16.225,1.2)(16.25,1.7)(16.275,1.8)(16.3,3.1)(16.325,1.4)(16.35,2.4)(16.375,1.9)(16.4,4.0)(16.425,1.3)(16.45,2.0)(16.475,1.6)(16.5,3.3)(16.525,1.1)(16.55,1.9)(16.575,2.0)(16.6,6.5)(16.625,2.5)(16.65,14.5)(16.675,1.7)(16.7,2.8)(16.725,1.5)(16.75,3.6)(16.775,1.4)(16.8,2.1)(16.825,2.2)(16.85,18.0)(16.875,1.8)(16.9,4.2)(16.925,1.6)(16.95,2.6)(16.975,1.9)
(17,3.5)(17.025,1.4)(17.05,2.0)(17.075,1.7)(17.1,3.0)(17.125,1.5)(17.15,2.3)(17.175,1.9)(17.2,4.4)(17.225,1.3)(17.25,1.8)(17.275,1.6)(17.3,2.7)(17.325,1.8)(17.35,3.8)(17.375,1.4)(17.4,2.1)(17.425,1.2)(17.45,2.9)(17.475,1.7)(17.5,3.4)(17.525,1.5)(17.55,1.9)(17.575,1.3)(17.6,2.6)(17.625,1.8)(17.65,3.1)(17.675,1.6)(17.7,2.2)(17.725,2.0)(17.75,4.0)(17.775,1.4)(17.8,1.8)(17.825,1.5)(17.85,2.5)(17.875,1.7)(17.9,3.3)(17.925,2.3)(17.95,7.0)(17.975,1.6)
(18,2.4)(18.025,1.5)(18.05,3.6)(18.075,1.9)(18.1,2.0)(18.125,1.7)(18.15,4.5)(18.175,2.0)(18.2,2.8)(18.225,1.4)(18.25,1.9)(18.275,1.8)(18.3,3.7)(18.325,1.6)(18.35,2.3)(18.375,2.1)(18.4,3.2)(18.425,2.4)(18.45,5.0)(18.475,1.9)(18.5,2.6)(18.525,2.2)(18.55,4.1)(18.575,2.0)(18.6,3.0)(18.625,2.6)(18.65,5.6)(18.675,1.8)(18.7,2.2)(18.725,2.3)(18.75,4.8)(18.775,2.1)(18.8,3.3)(18.825,2.5)(18.85,15.5)(18.875,3.0)(18.9,19.0)(18.925,3.5)(18.95,9.0)(18.975,2.8)
(19,12.0)(19.025,2.4)(19.05,4.2)(19.075,2.9)(19.1,6.3)(19.125,2.2)(19.15,2.8)(19.175,2.7)(19.2,5.1)(19.225,2.0)(19.25,3.4)(19.275,2.3)(19.3,2.5)(19.325,1.9)(19.35,4.7)(19.375,2.5)(19.4,2.1)(19.425,1.8)(19.45,3.9)(19.475,2.2)(19.5,2.6)(19.525,1.7)(19.55,3.2)(19.575,2.4)(19.6,5.4)(19.625,2.0)(19.65,2.0)(19.675,1.6)(19.7,3.6)(19.725,2.6)(19.75,10.5)(19.775,2.1)(19.8,2.4)(19.825,1.8)(19.85,4.4)(19.875,1.5)(19.9,2.2)(19.925,1.9)(19.95,3.1)(19.975,1.6)(20,2.6)};
\end{axis}
\node[anchor=base, font=\fontsize{8}{9.6}\selectfont, text=axgray] at (0.03cm,0.41cm) {0};
\end{tikzpicture}
\end{document}
